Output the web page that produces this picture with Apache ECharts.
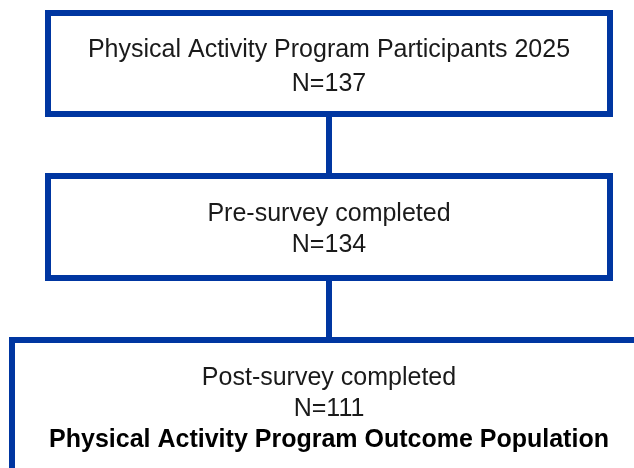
<!DOCTYPE html>
<html>
<head>
<meta charset="utf-8">
<script src="https://cdn.jsdelivr.net/npm/echarts@6/dist/echarts.min.js"></script>
<style>
  html, body { margin: 0; padding: 0; background: #fff; }
  #chart { width: 634px; height: 468px; }
</style>
</head>
<body>
<div id="chart"></div>
<script>
// flow stages and counts
const stages = [
  'Physical Activity Program Participants 2025',
  'Pre-survey completed',
  'Post-survey completed'
]
const counts = [137, 134, 111]
const outcomeLabel = 'Physical Activity Program Outcome Population'

const blue = '#0036a1'
const textColor = '#1a1a1a'

// box layout in page pixels: stroke path left/top/right/bottom, text centre y, line height
const boxes = [
  { l: 48, t: 13, r: 610, b: 114, ty: 67, lh: 34 },
  { l: 48, t: 176, r: 610, b: 278, ty: 230, lh: 31 },
  { l: 12, t: 340, r: 646, b: 560, ty: 409, lh: 31 }
]

const chart = echarts.init(document.getElementById('chart'))
chart.setOption({
  animation: false,
  grid: { left: 0, right: 0, top: 0, bottom: 0 },
  xAxis: { type: 'value', min: 0, max: 634, show: false },
  yAxis: { type: 'value', min: 0, max: 468, inverse: true, show: false },
  series: [{
    type: 'custom',
    silent: true,
    clip: false,
    data: stages.map((s, i) => [i, counts[i]]),
    renderItem: function(params, api) {
      const i = api.value(0)
      const b = boxes[i]
      const p0 = api.coord([b.l, b.t])
      const p1 = api.coord([b.r, b.b])
      let text = '{t|' + stages[i] + '}\n{t|N=' + api.value(1) + '}'
      if (i === stages.length - 1) {
        text += '\n{b|' + outcomeLabel + '}'
      }
      const children = [{
        type: 'rect',
        shape: { x: p0[0], y: p0[1], width: p1[0] - p0[0], height: p1[1] - p0[1] },
        style: { fill: '#fff', stroke: blue, lineWidth: 6 }
      }, {
        type: 'text',
        x: api.coord([(boxes[0].l + boxes[0].r) / 2, 0])[0],
        y: api.coord([0, b.ty])[1],
        style: {
          text: text,
          align: 'center',
          verticalAlign: 'middle',
          rich: {
            t: { fontSize: 25, fontFamily: 'Liberation Sans', fill: textColor, lineHeight: b.lh, align: 'center' },
            b: { fontSize: 25, fontWeight: 'bold', fontFamily: 'Liberation Sans', fill: '#000', lineHeight: b.lh, align: 'center' }
          }
        }
      }]
      // connector from the previous box
      if (i > 0) {
        const prev = boxes[i - 1]
        const cx = (prev.l + prev.r) / 2
        const a = api.coord([cx, prev.b + 3])
        const c = api.coord([cx, b.t - 3])
        children.push({
          type: 'line',
          shape: { x1: a[0], y1: a[1], x2: c[0], y2: c[1] },
          style: { stroke: blue, lineWidth: 6 }
        })
      }
      return { type: 'group', children: children }
    }
  }]
})
</script>
</body>
</html>
